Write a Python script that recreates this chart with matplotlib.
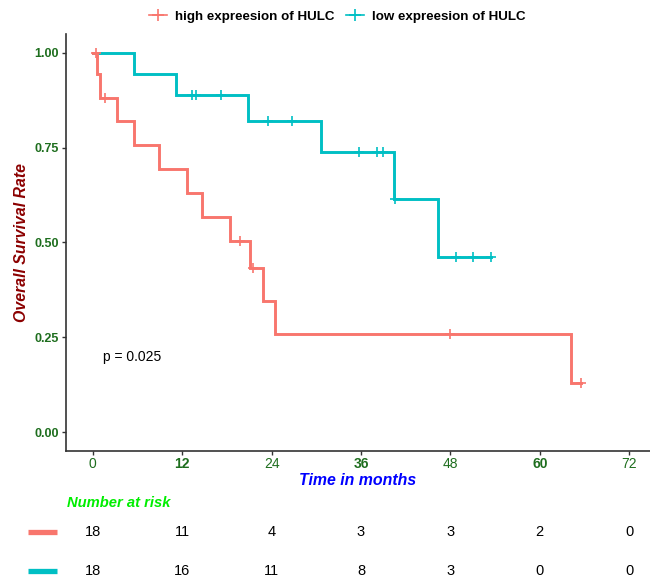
import matplotlib
matplotlib.use("Agg")
import matplotlib.pyplot as plt
from matplotlib.lines import Line2D

plt.rcParams['font.family'] = ['Liberation Sans', 'DejaVu Sans']
NARROW = ['Liberation Sans Narrow', 'Liberation Sans', 'DejaVu Sans']

# survival steps (months, survival)
high_times = [0, 0.6, 0.9, 3.2, 5.5, 8.9, 12.7, 14.7, 18.4, 21.1, 22.8, 24.4, 64.2, 65.5]
high_surv = [1.0, 0.944, 0.882, 0.821, 0.756, 0.693, 0.630, 0.567, 0.504, 0.432, 0.345, 0.259, 0.130, 0.130]
high_cens = [0.4, 1.6, 19.7, 21.5, 48.0, 65.5]

low_times = [0, 5.5, 11.2, 20.8, 30.6, 40.4, 46.4, 53.5]
low_surv = [1.0, 0.944, 0.889, 0.821, 0.739, 0.615, 0.462, 0.462]
low_cens = [13.3, 13.8, 17.2, 23.5, 26.8, 35.7, 38.2, 39.0, 40.6, 48.7, 51.1, 53.5]

risk_times = [0, 12, 24, 36, 48, 60, 72]
risk_high = [18, 11, 4, 3, 3, 2, 0]
risk_low = [18, 16, 11, 8, 3, 0, 0]

labels = ['high expreesion of HULC', 'low expreesion of HULC']
colors = ['#F8766D', '#00BFC4']
p_text = 'p = 0.025'


def surv_at(times, surv, t):
    """step function value at time t"""
    val = surv[0]
    for ti, si in zip(times, surv):
        if ti <= t:
            val = si
    return val


fig = plt.figure(figsize=(6.5, 5.81), dpi=100)
ax = fig.add_axes([66 / 650, 1 - 451 / 581, 1 - 66 / 650, (451 - 34) / 581])

# teal first, red drawn on top
for times, surv, cens, col in [(low_times, low_surv, low_cens, colors[1]),
                               (high_times, high_surv, high_cens, colors[0])]:
    ax.step(times, surv, where='post', color=col, lw=2.1, solid_joinstyle='miter')
    cy = [surv_at(times, surv, c) for c in cens]
    ax.plot(cens, cy, ls='none', marker='+', ms=7, mew=1.2, color=col)

ax.set_xlim(-3.6, 74.8)
ax.set_ylim(-0.05, 1.05)
ax.set_xticks(risk_times)
ax.set_yticks([0, 0.25, 0.5, 0.75, 1.0])
ax.set_yticklabels(['0.00', '0.25', '0.50', '0.75', '1.00'])
for sp in ['top', 'right']:
    ax.spines[sp].set_visible(False)
for sp in ['left', 'bottom']:
    ax.spines[sp].set_linewidth(1.2)
    ax.spines[sp].set_color('#333333')
ax.tick_params(length=3, width=1, color='#333333', pad=2)
ax.tick_params(axis='x', pad=1.5)

for lab in ax.get_yticklabels():
    lab.set_color('#1E6E1E')
    lab.set_fontweight('bold')
    lab.set_fontsize(9)
    lab.set_family(NARROW)
for i, lab in enumerate(ax.get_xticklabels()):
    lab.set_color('#1E6E1E')
    lab.set_fontsize(10)
    if i % 2 == 1:
        lab.set_fontweight('bold')

ax.set_xlabel('Time in months', color='blue', fontweight='bold', style='italic',
              fontsize=11.4, labelpad=1.5, family=NARROW)
ax.set_ylabel('Overall Survival Rate', color='#8B0000', fontweight='bold', style='italic',
              fontsize=11.4, labelpad=4, family=NARROW)

ax.text(1.3, 0.198, p_text, fontsize=10, va='center', ha='left')

handles = [Line2D([], [], color=c, marker='+', ms=8, mew=1.2, lw=1.2) for c in colors]
fig.legend(handles, labels, loc='center', bbox_to_anchor=(0.519, 1 - 17 / 581), ncol=2,
           frameon=False, handlelength=1.4, handletextpad=0.6, columnspacing=0.8,
           prop={'weight': 'bold', 'size': 9.6})

# number at risk table
fig.text(67 / 650, 1 - 503 / 581, 'Number at risk', color='#00EE00', fontweight='bold',
         style='italic', fontsize=10.6, va='center', ha='left', family=NARROW)
rax = fig.add_axes([66 / 650, 1 - 590.5 / 581, 1 - 66 / 650, 78 / 581])
rax.set_xlim(-3.6, 74.8)
rax.set_ylim(-0.5, 1.5)
rax.axis('off')
for row, counts in enumerate([risk_high, risk_low]):
    y = 1 - row
    for t, n in zip(risk_times, counts):
        rax.text(t, y, str(n), ha='center', va='center', fontsize=10.5)
    rax.plot([-8.7, -4.8], [y, y], color=colors[row], lw=3.8, clip_on=False,
             solid_capstyle='butt')

fig.savefig('out.png', dpi=100)
